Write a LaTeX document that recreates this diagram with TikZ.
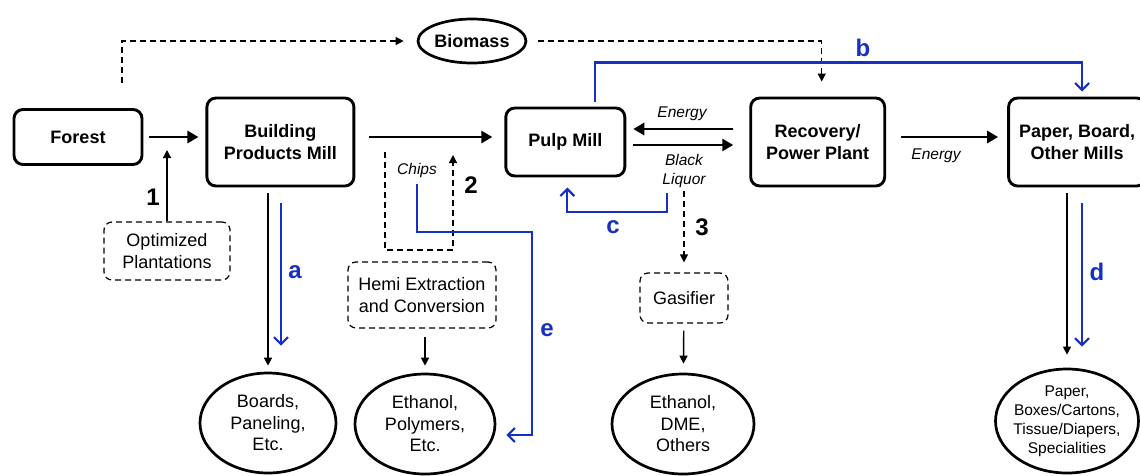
\documentclass[tikz,border=0pt]{standalone}
\usepackage{fontspec}
\setmainfont{Liberation Sans}
\usepackage{tikz}
\usetikzlibrary{positioning,shapes.geometric,arrows.meta}
\definecolor{linkblue}{RGB}{22,48,195}
\newcommand{\bigfont}{\fontsize{18}{21.5}\selectfont}
\newcommand{\smallfont}{\fontsize{15.5}{19}\selectfont}
\newcommand{\tagfont}{\fontsize{24}{28}\selectfont\bfseries}
\tikzset{
    mill/.style={draw, line width=2.9pt, rounded corners=9pt, align=center, font=\bigfont\bfseries},
    option/.style={draw, line width=1.2pt, dash pattern=on 6pt off 4pt, rounded corners=8pt, align=center, font=\bigfont},
    product/.style={draw, ellipse, line width=2.7pt, align=center, font=\bigfont, inner sep=0pt},
    flow/.style={line width=2.8pt, -{Triangle[length=11pt,width=12pt]}},
    thinflow/.style={line width=1.4pt, -{Triangle[length=8pt,width=8pt]}},
    dashflow/.style={line width=1.2pt, dash pattern=on 6pt off 4pt, -{Triangle[length=8pt,width=8pt]}},
    blueflow/.style={linkblue, line width=2.2pt, -{Straight Barb[length=7pt,width=14pt]}},
    lbl/.style={font=\smallfont\itshape, align=center},
    tag/.style={font=\tagfont},
    bluetag/.style={font=\tagfont, text=linkblue}
}
\begin{document}
\begin{tikzpicture}[x=1pt,y=-1pt]
            \useasboundingbox (0,0) rectangle (1140,475);
            \node[mill, minimum width=128pt, minimum height=55pt] (forest) at (78,137) {Forest};
            \node[mill, minimum width=147pt, minimum height=88pt] (bpm)[right=62pt of forest, yshift=-5pt] {Building\\Products Mill};
            \node[mill, minimum width=119pt, minimum height=68pt] (pulp)[right=149pt of bpm] {Pulp Mill};
            \node[mill, minimum width=134pt, minimum height=88pt] (recovery)[right=123pt of pulp] {Recovery/\\Power Plant};
            \node[mill, minimum width=137pt, minimum height=88pt] (paper)[right=121pt of recovery] {Paper, Board,\\Other Mills};
            \node[product, font=\bigfont\bfseries, minimum width=108pt, minimum height=44pt] (biomass) at (472,41) {Biomass};

            \node[option, minimum width=126pt, minimum height=58pt] (plantations) at (167,251) {Optimized\\Plantations};
            \node[option, minimum width=148pt, minimum height=66pt] (hemi) at (422,295) {Hemi Extraction\\and Conversion};
            \node[option, minimum width=88pt, minimum height=50pt] (gasifier) at (684,298) {Gasifier};

            \node[product, minimum width=136pt, minimum height=100pt] (boards) at (268,423) {Boards,\\Paneling,\\Etc.};
            \node[product, minimum width=140pt, minimum height=100pt] (polymers) at (425,424) {Ethanol,\\Polymers,\\Etc.};
            \node[product, minimum width=142pt, minimum height=100pt] (dme) at (683,424) {Ethanol,\\DME,\\Others};
            \node[product, font=\smallfont, inner xsep=-4pt, minimum width=143pt, minimum height=104pt] (goods) at (1067,421) {Paper,\\Boxes/Cartons,\\Tissue/Diapers,\\Specialities};

            \node[lbl] (energyin) at (682,114) {Energy};
            \node[lbl] (liquor) at (684,171) {Black\\Liquor};
            \node[lbl] (energyout) at (936,156) {Energy};
            \node[lbl] (chips) at (417,170) {Chips};

            \node[tag] (one) at (153,197) {1};
            \node[tag] (two) at (471,185) {2};
            \node[tag] (three) at (702,227) {3};
            \node[bluetag] (pa) at (295,272) {a};
            \node[bluetag] (pb) at (863,48) {b};
            \node[bluetag] (pc) at (613,227) {c};
            \node[bluetag] (pd) at (1097,272) {d};
            \node[bluetag] (pe) at (547,330) {e};

            \coordinate (fortop) at (122,83);
            \coordinate (chipa) at (385,152);
            \coordinate (chipb) at (453,250);
            \coordinate (chipc) at (453,155);
            \coordinate (cstart) at (667,193);
            \coordinate (ebend) at (532,232);

            \draw[flow, shorten <=6pt, shorten >=7pt] (forest.east) -- (forest.east -| bpm.west);
            \draw[flow, shorten <=14pt, shorten >=12pt] ([yshift=5pt]bpm.east) -- (pulp.west |- forest.east);
            \draw[flow, shorten <=16pt, shorten >=7pt] ([yshift=13pt]recovery.west) -- ([yshift=13pt]pulp.east);
            \draw[flow, shorten <=7pt, shorten >=16pt] ([yshift=-3pt]pulp.east) -- ([yshift=-3pt]recovery.west);
            \draw[flow, shorten <=15pt, shorten >=9pt] ([yshift=5pt]recovery.east) -- ([yshift=5pt]paper.west);

            \draw[dashflow, shorten >=13pt] (fortop) |- (biomass.west);
            \draw[dashflow, shorten <=11pt, shorten >=15pt] (biomass.east) -| ([xshift=4pt]recovery.north);
            \draw[dashflow] (chipa) |- (chipb) -- (chipc);
            \draw[dashflow, shorten >=10pt] (liquor.south) -- (gasifier.north);

            \draw[thinflow, shorten >=13pt] (plantations.north) -- (plantations.north |- forest.east);
            \draw[thinflow, shorten <=6pt, shorten >=6pt] (boards.north |- bpm.south) -- (boards.north);
            \draw[thinflow, shorten <=8pt, shorten >=7pt] (polymers.north |- hemi.south) -- (polymers.north);
            \draw[thinflow, shorten <=7pt, shorten >=9pt] (gasifier) -- (dme);
            \draw[thinflow, shorten <=6pt, shorten >=13pt] (goods.north |- paper.south) -- (goods.north);

            \draw[blueflow, shorten <=5pt, shorten >=5pt] ([xshift=30pt]pulp.north) -- ++(0,-44) -| ([xshift=5pt]paper.north);
            \draw[blueflow, shorten >=10pt] (cstart) -- ++(0,19) -| ([xshift=2pt]pulp.south);
            \draw[blueflow, shorten <=16pt, shorten >=26pt] ([xshift=13pt]boards.north |- bpm.south) -- ([xshift=13pt]boards.north);
            \draw[blueflow, shorten <=16pt, shorten >=21pt] ([xshift=15pt]goods.north |- paper.south) -- ([xshift=15pt]goods.north);
            \draw[blueflow, shorten <=3pt, shorten >=10pt] (chips.south) |- (ebend) |- ([yshift=-11pt]polymers.east);
\end{tikzpicture}
\end{document}
